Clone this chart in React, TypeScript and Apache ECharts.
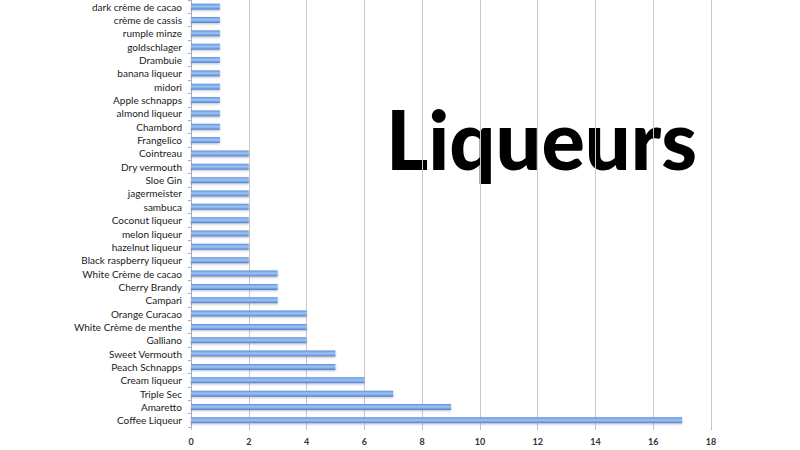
import React, { useEffect, useRef } from "react";
import * as echarts from "echarts";

const categories = [
  "Coffee Liqueur", "Amaretto", "Triple Sec", "Cream liqueur", "Peach Schnapps",
  "Sweet Vermouth", "Galliano", "White Crème de menthe", "Orange Curacao", "Campari",
  "Cherry Brandy", "White Crème de cacao", "Black raspberry liqueur", "hazelnut liqueur",
  "melon liqueur", "Coconut liqueur", "sambuca", "jagermeister", "Sloe Gin", "Dry vermouth",
  "Cointreau", "Frangelico", "Chambord", "almond liqueur", "Apple schnapps", "midori",
  "banana liqueur", "Drambuie", "goldschlager", "rumple minze", "crème de cassis",
  "dark crème de cacao",
];
const counts = [
  17, 9, 7, 6, 5, 5, 4, 4, 4, 3, 3, 3, 2, 2, 2, 2, 2, 2, 2, 2, 2,
  1, 1, 1, 1, 1, 1, 1, 1, 1, 1, 1,
];
const xMin = 0;
const xMax = 18;
const xStep = 2;
const titleText = "Liqueurs";

export default function App() {
  const ref = useRef<HTMLDivElement>(null);
  useEffect(() => {
    if (!ref.current) return;
    const chart = echarts.init(ref.current, null, { renderer: "svg" });
    chart.setOption({
      animation: false,
      backgroundColor: "#ffffff",
      grid: { left: 191, right: 89, top: -1, bottom: 23, containLabel: false },
      xAxis: {
        type: "value",
        min: xMin,
        max: xMax,
        interval: xStep,
        axisLine: { show: false },
        axisTick: { show: true, length: 3, lineStyle: { color: "#bdbdbd" } },
        splitLine: { show: true, lineStyle: { color: "#c9c9c9", width: 1 } },
        axisLabel: {
          margin: 10,
          fontFamily: "Lato",
          fontSize: 9,
          fontWeight: "bold",
          color: "#333",
        },
      },
      yAxis: {
        type: "category",
        data: categories,
        axisLine: { show: true, lineStyle: { color: "#b0b0b0" } },
        axisTick: { show: true, length: 3, lineStyle: { color: "#b0b0b0" } },
        axisLabel: {
          margin: 9,
          fontFamily: "Lato",
          fontSize: 10,
          color: "#1a1a1a",
        },
      },
      series: [
        {
          type: "bar",
          data: counts,
          barWidth: 6,
          itemStyle: {
            color: new echarts.graphic.LinearGradient(0, 0, 0, 1, [
              { offset: 0, color: "#5a90dc" },
              { offset: 0.4, color: "#9cc0f0" },
              { offset: 0.6, color: "#8fb6ec" },
              { offset: 1, color: "#4a80d2" },
            ]),
            shadowColor: "rgba(0,0,0,0.25)",
            shadowBlur: 2,
            shadowOffsetY: 1,
          },
        },
      ],
      graphic: [
        {
          type: "text",
          left: 386,
          top: 98,
          style: {
            text: titleText,
            fontFamily: "Lato",
            fontWeight: 900,
            fontSize: 81,
            fill: "#000",
          },
        },
      ],
    });
    return () => chart.dispose();
  }, []);
  return <div ref={ref} style={{ width: 800, height: 450, position: "absolute", left: 0, top: 0 }} />;
}
